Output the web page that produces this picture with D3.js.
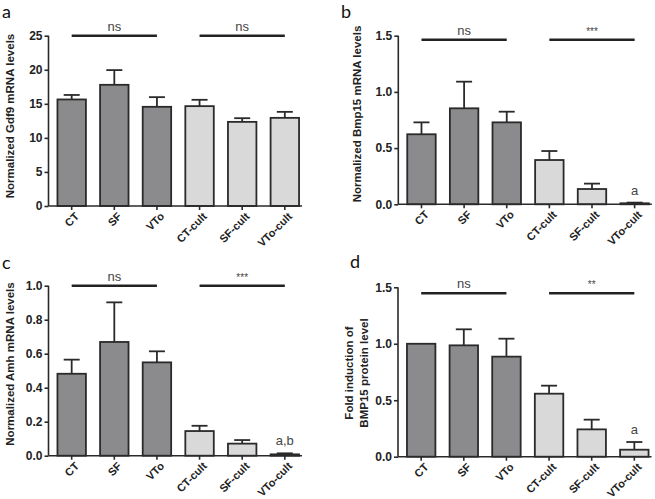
<!DOCTYPE html>
<html>
<head>
<meta charset="utf-8">
<script src="https://cdn.jsdelivr.net/npm/d3@7"></script>
<style>
  html, body { margin: 0; padding: 0; background: #fff; }
  svg { display: block; }
</style>
</head>
<body>
<svg id="chart" width="655" height="499"></svg>
<script>
// ---------- data ----------
const categories = ["CT", "SF", "VTo", "CT-cult", "SF-cult", "VTo-cult"];
const groupOf = ["fresh", "fresh", "fresh", "cult", "cult", "cult"];

const gdf9Mean = [15.64, 17.79, 14.56, 14.66, 12.35, 12.94];
const gdf9Err  = [0.66, 2.16, 1.42, 0.93, 0.54, 0.88];

const bmp15Mean = [0.623, 0.854, 0.729, 0.394, 0.136, 0.009];
const bmp15Err  = [0.106, 0.237, 0.095, 0.080, 0.048, 0.006];

const amhMean = [0.482, 0.669, 0.549, 0.145, 0.071, 0.008];
const amhErr  = [0.083, 0.233, 0.065, 0.031, 0.021, 0.006];

const bmp15ProtMean = [1.0, 0.986, 0.886, 0.558, 0.242, 0.062];
const bmp15ProtErr  = [0.0, 0.142, 0.159, 0.071, 0.086, 0.068];

const gdf9Ticks = [0, 5, 10, 15, 20, 25];
const bmp15Ticks = [0, 0.5, 1.0, 1.5];
const amhTicks = [0, 0.2, 0.4, 0.6, 0.8, 1.0];
const bmp15ProtTicks = [0, 0.5, 1.0, 1.5];

const sigA = ["ns", "ns"];
const sigB = ["ns", "***"];
const sigC = ["ns", "***"];
const sigD = ["ns", "**"];

const noteB = ["", "", "", "", "", "a"];
const noteC = ["", "", "", "", "", "a,b"];
const noteD = ["", "", "", "", "", "a"];

// ---------- drawing ----------
const svg = d3.select("#chart");
const fillColor = { fresh: "#8b8b8e", cult: "#d9d9d9" };
const ink = "#2a2a2a";
const boldFont = "'Liberation Sans', Arial, sans-serif";

function panel(cfg) {
  const g = svg.append("g");
  const x = d3.scaleBand().domain(categories)
    .range([cfg.x0, cfg.x0 + 259.5]).paddingInner(0.3325).paddingOuter(0.21);
  const y = d3.scaleLinear().domain([0, cfg.max]).range([cfg.yBottom, cfg.yTop]);

  // panel letter
  g.append("text").attr("x", cfg.letterX).attr("y", cfg.letterY)
    .attr("font-family", "Lato, 'Open Sans', sans-serif").attr("font-size", 18)
    .attr("fill", "#111").text(cfg.letter);

  const data = categories.map((c, i) => ({ c, m: cfg.mean[i], e: cfg.err[i], grp: groupOf[i], note: cfg.note ? cfg.note[i] : "" }));

  // error bars (upper only)
  const capW = 16;
  data.forEach(d => {
    if (d.e > 0) {
      const cx = x(d.c) + x.bandwidth() / 2;
      g.append("line").attr("x1", cx).attr("x2", cx)
        .attr("y1", y(d.m)).attr("y2", y(d.m + d.e))
        .attr("stroke", ink).attr("stroke-width", 1.8);
      g.append("line").attr("x1", cx - capW / 2).attr("x2", cx + capW / 2)
        .attr("y1", y(d.m + d.e)).attr("y2", y(d.m + d.e))
        .attr("stroke", ink).attr("stroke-width", 1.8);
    }
  });

  // bars
  g.selectAll("rect.bar").data(data).join("rect").attr("class", "bar")
    .attr("x", d => x(d.c)).attr("width", x.bandwidth())
    .attr("y", d => y(d.m)).attr("height", d => y(0) - y(d.m))
    .attr("fill", d => fillColor[d.grp]).attr("stroke", ink).attr("stroke-width", 1.8);

  // notes above bars
  data.forEach(d => {
    if (d.note) {
      g.append("text").attr("x", x(d.c) + x.bandwidth() / 2)
        .attr("y", y(d.m + d.e) - 8).attr("text-anchor", "middle")
        .attr("font-family", boldFont).attr("font-size", 13).attr("fill", "#444")
        .text(d.note);
    }
  });

  // y axis
  const yAxis = d3.axisLeft(y).tickValues(cfg.ticks).tickSize(4).tickPadding(2)
    .tickFormat(cfg.fmt);
  const ya = g.append("g").attr("transform", `translate(${cfg.x0},0)`).call(yAxis);
  ya.select(".domain").attr("stroke", ink).attr("stroke-width", 1.6).attr("d", `M0,${cfg.yBottom}V${cfg.yTop}`);
  ya.selectAll(".tick line").attr("stroke", ink).attr("stroke-width", 1.6);
  ya.selectAll(".tick text").attr("font-family", boldFont).attr("font-weight", "bold")
    .attr("font-size", 12).attr("fill", "#222");

  // x axis (ticks + line; labels drawn separately, rotated)
  const xAxis = d3.axisBottom(x).tickSize(4).tickSizeOuter(0).tickFormat("");
  const xa = g.append("g").attr("transform", `translate(0,${cfg.yBottom})`).call(xAxis);
  const xEnd = x(categories[5]) + x.bandwidth() + 3;
  xa.select(".domain").attr("stroke", ink).attr("stroke-width", 1.6).attr("d", `M${cfg.x0},0H${xEnd}`);
  xa.selectAll(".tick line").attr("stroke", ink).attr("stroke-width", 1.6);

  g.selectAll("text.xlab").data(categories).join("text").attr("class", "xlab")
    .attr("transform", c => `translate(${x(c) + x.bandwidth() / 2 + 6},${cfg.yBottom + 9}) rotate(-45)`)
    .attr("text-anchor", "end").attr("dominant-baseline", "middle")
    .attr("font-family", boldFont).attr("font-weight", "bold").attr("font-size", 11).attr("fill", "#222")
    .text(c => c);

  // y title
  const tl = g.append("text").attr("text-anchor", "middle")
    .attr("transform", `translate(${cfg.titleX},${cfg.titleY}) rotate(-90)`)
    .attr("font-family", boldFont).attr("font-weight", "bold").attr("font-size", 11.5).attr("fill", "#222");
  cfg.title.forEach((t, i) => {
    tl.append("tspan").attr("x", 0).attr("dy", i === 0 ? (-(cfg.title.length - 1) * 7.5) + "px" : "15px").text(t);
  });

  // significance lines
  const groups = [[0, 2], [3, 5]];
  groups.forEach((gr, i) => {
    const xa1 = x(categories[gr[0]]) + x.bandwidth() / 2;
    const xa2 = x(categories[gr[1]]) + x.bandwidth() / 2;
    g.append("line").attr("x1", xa1).attr("x2", xa2).attr("y1", cfg.sigY).attr("y2", cfg.sigY)
      .attr("stroke", "#222").attr("stroke-width", 2.4);
    g.append("text").attr("x", (xa1 + xa2) / 2).attr("y", cfg.sigY - 5)
      .attr("text-anchor", "middle").attr("font-family", boldFont)
      .attr("font-size", cfg.sig[i] === "ns" ? 13 : 10).attr("fill", "#444").text(cfg.sig[i]);
  });
}

const fmt1 = d3.format(".1f");

panel({ letter: "a", letterX: 2, letterY: 18, x0: 48.5, yTop: 35.7, yBottom: 206, max: 25,
  mean: gdf9Mean, err: gdf9Err, ticks: gdf9Ticks, fmt: d3.format("d"),
  title: ["Normalized Gdf9 mRNA levels"], titleX: 14, titleY: 116, sigY: 35.7, sig: sigA });

panel({ letter: "b", letterX: 341, letterY: 18, x0: 398.3, yTop: 35.7, yBottom: 204.3, max: 1.5,
  mean: bmp15Mean, err: bmp15Err, ticks: bmp15Ticks, fmt: fmt1, note: noteB,
  title: ["Normalized Bmp15 mRNA levels"], titleX: 361, titleY: 114, sigY: 39.7, sig: sigB });

panel({ letter: "c", letterX: 2, letterY: 269, x0: 48.5, yTop: 285.7, yBottom: 455.7, max: 1.0,
  mean: amhMean, err: amhErr, ticks: amhTicks, fmt: fmt1, note: noteC,
  title: ["Normalized Amh mRNA levels"], titleX: 14, titleY: 364, sigY: 285.7, sig: sigC });

panel({ letter: "d", letterX: 350, letterY: 268, x0: 398, yTop: 287.3, yBottom: 456.7, max: 1.5,
  mean: bmp15ProtMean, err: bmp15ProtErr, ticks: bmp15ProtTicks, fmt: fmt1, note: noteD,
  title: ["Fold induction of", "BMP15 protein level"], titleX: 360, titleY: 373, sigY: 293.3, sig: sigD });
</script>
</body>
</html>
